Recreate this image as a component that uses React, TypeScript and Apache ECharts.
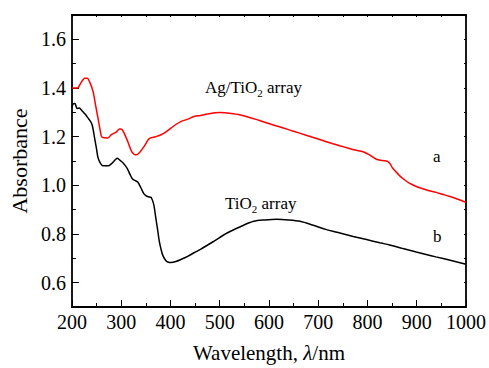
import React, { useEffect, useRef } from "react";
import * as echarts from "echarts";

const agTiO2: [number, number][] = [
  [200, 1.40], [211, 1.40], [218, 1.42], [226, 1.44], [231, 1.44], [237, 1.42], [243, 1.385], [248, 1.33],
  [253, 1.276], [258, 1.22], [261, 1.198], [273, 1.195], [280, 1.208], [290, 1.219], [297, 1.232], [300, 1.232],
  [305, 1.219], [313, 1.182], [318, 1.155], [323, 1.134], [330, 1.125], [337, 1.134], [347, 1.161], [357, 1.192],
  [370, 1.200], [381, 1.208], [391, 1.220], [401, 1.235], [411, 1.250], [421, 1.262], [435, 1.272], [448, 1.283],
  [461, 1.287], [475, 1.293], [490, 1.298], [502, 1.299], [520, 1.296], [542, 1.289], [570, 1.273], [596, 1.256],
  [623, 1.240], [650, 1.222], [677, 1.205], [703, 1.188], [730, 1.171], [757, 1.155], [775, 1.145], [791, 1.138],
  [805, 1.124], [818, 1.107], [830, 1.102], [841, 1.098], [846, 1.088], [851, 1.071], [858, 1.055], [865, 1.040],
  [875, 1.023], [885, 1.009], [898, 0.996], [912, 0.986], [925, 0.978], [939, 0.971], [952, 0.963], [966, 0.955],
  [982, 0.944], [1000, 0.930],
];

const tiO2: [number, number][] = [
  [200, 1.32], [203, 1.335], [206, 1.336], [209, 1.322], [211, 1.316], [215, 1.318], [218, 1.313], [222, 1.303],
  [228, 1.29], [233, 1.276], [238, 1.262], [241, 1.249], [244, 1.22], [246, 1.195], [250, 1.15], [253, 1.114],
  [258, 1.09], [263, 1.08], [273, 1.08], [278, 1.085], [283, 1.094], [288, 1.105], [292, 1.111], [297, 1.104],
  [303, 1.094], [308, 1.082], [313, 1.067], [318, 1.045], [323, 1.026], [328, 1.02], [334, 1.013], [340, 0.99],
  [346, 0.966], [350, 0.958], [355, 0.953], [360, 0.951], [362, 0.946], [365, 0.93], [367, 0.912], [370, 0.87],
  [374, 0.818], [377, 0.775], [381, 0.737], [385, 0.71], [391, 0.69], [396, 0.684], [401, 0.683], [411, 0.687],
  [421, 0.695], [435, 0.708], [448, 0.723], [461, 0.737], [488, 0.77], [515, 0.804], [542, 0.83], [569, 0.852],
  [592, 0.858], [616, 0.861], [640, 0.858], [663, 0.852], [690, 0.836], [717, 0.818], [744, 0.804], [771, 0.79],
  [798, 0.777], [825, 0.764], [845, 0.755], [872, 0.740], [899, 0.726], [919, 0.716], [939, 0.706], [968, 0.692],
  [1000, 0.676],
];

const yMajor = [0.6, 0.8, 1.0, 1.2, 1.4, 1.6];
const yMinor = [0.5, 0.7, 0.9, 1.1, 1.3, 1.5, 1.7];

const FONT = "Liberation Serif";

export default function App() {
  const ref = useRef<HTMLDivElement>(null);
  useEffect(() => {
    if (!ref.current) return;
    const chart = echarts.init(ref.current, undefined, { renderer: "svg" });
    const line = { show: true, lineStyle: { color: "#000", width: 1.8 } };
    const tick = (len: number, vals?: number[]) => ({
      show: true, inside: true, length: len, lineStyle: { color: "#000", width: 1 },
      ...(vals ? { customValues: vals } : {}),
    });
    const minor = (len: number) => ({ show: true, splitNumber: 2, length: len, lineStyle: { color: "#000", width: 1 } });
    const xBase = { type: "value", min: 200, max: 1000, interval: 100, splitLine: { show: false } };
    const yBase = { type: "value", min: 0.5, max: 1.7, interval: 0.1, splitLine: { show: false } };
    chart.setOption({
      animation: false,
      backgroundColor: "#fff",
      grid: { left: 70, right: 22, top: 15, bottom: 56 },
      xAxis: [
        {
          ...xBase, position: "bottom",
          axisLine: line, axisTick: tick(7), minorTick: minor(4),
          axisLabel: { color: "#000", fontFamily: FONT, fontSize: 20, margin: 5, formatter: (v: number) => String(v) },
          name: "Wavelength, {i|λ}/nm",
          nameLocation: "middle", nameGap: 35,
          nameTextStyle: {
            color: "#000", fontFamily: FONT, fontSize: 21,
            rich: { i: { fontStyle: "italic", fontFamily: FONT, fontSize: 21, color: "#000" } },
          },
        },
        {
          ...xBase, position: "top",
          axisLine: line, axisTick: tick(2), minorTick: minor(2), axisLabel: { show: false },
        },
      ],
      yAxis: [
        {
          ...yBase, position: "left",
          axisLine: line, axisTick: tick(7, yMajor),
          axisLabel: {
            color: "#000", fontFamily: FONT, fontSize: 20, margin: 6, customValues: yMajor,
            formatter: (v: number) => v.toFixed(1),
          },
          name: "Absorbance", nameLocation: "middle", nameGap: 40,
          nameTextStyle: { color: "#000", fontFamily: FONT, fontSize: 22 },
        },
        {
          ...yBase, position: "left",
          axisLine: { show: false }, axisTick: tick(4, yMinor), axisLabel: { show: false },
        },
        {
          ...yBase, position: "right",
          axisLine: line, axisTick: tick(2), axisLabel: { show: false },
        },
      ],
      series: [
        {
          type: "line", data: agTiO2, showSymbol: false, smooth: 0.3,
          lineStyle: { color: "#ff0000", width: 1.5 }, z: 3,
        },
        {
          type: "line", data: tiO2, showSymbol: false, smooth: 0.3,
          lineStyle: { color: "#000", width: 1.5 }, z: 3,
        },
      ],
      graphic: [
        {
          type: "text", left: 205, top: 79,
          style: {
            text: "Ag/TiO{s|2} array", fill: "#000", font: `17px "${FONT}"`,
            rich: { s: { fontSize: 11, fontFamily: FONT, padding: [10, 0, 0, 0] } },
          },
        },
        {
          type: "text", left: 225, top: 195,
          style: {
            text: "TiO{s|2} array", fill: "#000", font: `17px "${FONT}"`,
            rich: { s: { fontSize: 11, fontFamily: FONT, padding: [10, 0, 0, 0] } },
          },
        },
        { type: "text", left: 433, top: 148, style: { text: "a", fill: "#000", font: `17px "${FONT}"` } },
        { type: "text", left: 433, top: 228, style: { text: "b", fill: "#000", font: `17px "${FONT}"` } },
      ],
    });
    return () => chart.dispose();
  }, []);
  return <div ref={ref} style={{ width: 489, height: 368, position: "absolute", left: 0, top: 0 }} />;
}
